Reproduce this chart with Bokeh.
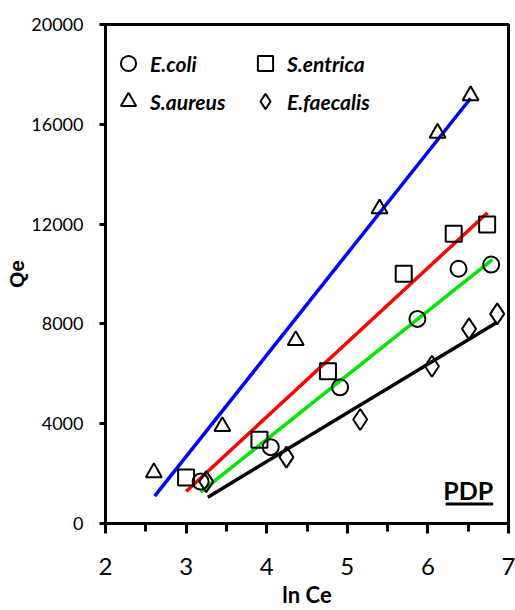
from bokeh.plotting import figure
from bokeh.models import Range1d, FixedTicker, Legend, LegendItem, Label, BoxAnnotation
from bokeh.embed import file_html
from bokeh.resources import INLINE

# ---- data ----
x_ticks = [2, 3, 4, 5, 6, 7]
x_minor = [2.5, 3.5, 4.5, 5.5, 6.5]
y_ticks = [0, 4000, 8000, 12000, 16000, 20000]

ecoli_x = [3.18, 4.05, 4.91, 5.87, 6.38, 6.785]
ecoli_y = [1680, 3060, 5460, 8200, 10210, 10380]
sent_x = [3.0, 3.91, 4.76, 5.70, 6.32, 6.735]
sent_y = [1840, 3355, 6100, 10010, 11610, 11980]
saur_x = [2.6, 3.45, 4.36, 5.40, 6.12, 6.53]
saur_y = [2040, 3890, 7340, 12620, 15650, 17150]
efae_x = [3.25, 4.245, 5.16, 6.05, 6.51, 6.86]
efae_y = [1680, 2660, 4170, 6300, 7800, 8400]

series_names = ["E.coli", "S.entrica", "S.aureus", "E.faecalis"]
fit_slope = [2576, 2987, 4069, 1953]
fit_intercept = [-6936, -7678, -9526, -5330]
fit_x_start = [3.18, 3.0, 2.61, 3.27]
fit_x_end = [6.80, 6.74, 6.53, 6.86]

# ---- style ----
FONT = "Lato"
markers = ["circle", "square", "triangle", "diamond"]
marker_sizes = [16, 16, 16, 21]
line_colors = ["#00e600", "#ff0000", "#0000ff", "#000000"]
xs_all = [ecoli_x, sent_x, saur_x, efae_x]
ys_all = [ecoli_y, sent_y, saur_y, efae_y]

p = figure(frame_width=403, frame_height=499,
           min_border_left=105, min_border_right=7, min_border_top=24, min_border_bottom=87,
           x_range=Range1d(2, 7), y_range=Range1d(0, 20000),
           output_backend="svg", toolbar_location=None)
p.grid.visible = False
p.outline_line_color = "black"
p.outline_line_width = 3

# fit lines
for i in range(4):
    xa = [fit_x_start[i], fit_x_end[i]]
    ya = [fit_slope[i] * v + fit_intercept[i] for v in xa]
    p.line(xa, ya, line_color=line_colors[i], line_width=3.5)

# markers
renderers = []
for i in range(4):
    r = p.scatter(xs_all[i], ys_all[i], marker=markers[i], size=marker_sizes[i],
                  fill_color=None, line_color="black", line_width=2)
    renderers.append(r)

legend_order = [0, 2, 1, 3]  # column-wise fill -> rows: E.coli/S.entrica, S.aureus/E.faecalis
items = [LegendItem(label=series_names[i], renderers=[renderers[i]]) for i in legend_order]
legend = Legend(items=items, ncols=2, location=(4, 403),
                glyph_width=38, glyph_height=38, label_standoff=3, label_width=96,
                spacing=0, padding=0, margin=0,
                label_text_font=FONT, label_text_font_style="bold italic",
                label_text_font_size="21px", label_text_color="black",
                border_line_color=None, background_fill_alpha=0)
p.add_layout(legend, "center")

# axes
p.xaxis.ticker = FixedTicker(ticks=x_ticks, minor_ticks=x_minor)
p.yaxis.ticker = FixedTicker(ticks=y_ticks, minor_ticks=[])
for ax in (p.xaxis, p.yaxis):
    ax.axis_line_width = 3
    ax.axis_line_color = "black"
    ax.major_tick_line_color = "black"
    ax.minor_tick_line_color = "black"
    ax.major_tick_line_width = 3
    ax.minor_tick_line_width = 3
    ax.major_tick_in = 0
    ax.minor_tick_in = 0
    ax.major_label_text_font = FONT
    ax.major_label_text_color = "black"
    ax.axis_label_text_color = "black"
p.xaxis.major_label_text_font_size = "24px"
p.yaxis.major_label_text_font_size = "18px"
p.xaxis.major_tick_out = 10
p.xaxis.minor_tick_out = 8
p.yaxis.major_tick_out = 6
p.xaxis.major_label_standoff = 24
p.yaxis.major_label_standoff = 16

p.xaxis.axis_label = "ln Ce"
p.xaxis.axis_label_text_font = FONT
p.xaxis.axis_label_text_font_style = "bold"
p.xaxis.axis_label_text_font_size = "22px"
p.xaxis.axis_label_standoff = 3
p.yaxis.axis_label = "Qe"
p.yaxis.axis_label_text_font = "Liberation Sans"
p.yaxis.axis_label_text_font_style = "bold"
p.yaxis.axis_label_text_font_size = "21px"
p.yaxis.axis_label_standoff = 0

# PDP label with underline
p.add_layout(Label(x=6.81, y=1323, text="PDP", text_align="right", text_baseline="alphabetic",
                   text_font=FONT, text_font_style="bold", text_font_size="25px",
                   text_color="black"))
p.add_layout(BoxAnnotation(left=6.22, right=6.81, bottom=720, top=840,
                           fill_color="black", fill_alpha=1, line_color=None))

open("out.html", "w").write(file_html(p, INLINE))
